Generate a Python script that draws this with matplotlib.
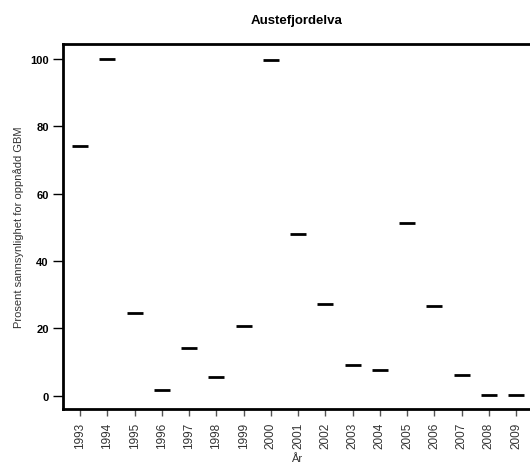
import matplotlib
matplotlib.use("Agg")
import matplotlib.pyplot as plt

plt.rcParams['font.family'] = ['Liberation Sans', 'DejaVu Sans']

years = [1993, 1994, 1995, 1996, 1997, 1998, 1999, 2000, 2001,
         2002, 2003, 2004, 2005, 2006, 2007, 2008, 2009]
values = [74.1, 100.0, 24.6, 1.7, 14.2, 5.6, 20.8, 99.6, 48.1,
          27.3, 9.0, 7.7, 51.3, 26.6, 6.2, 0.3, 0.3]
yticks = [0, 20, 40, 60, 80, 100]
title = "Austefjordelva"
xlabel = "År"
ylabel = "Prosent sannsynlighet for oppnådd GBM"

fig = plt.figure(figsize=(5.30, 4.64), dpi=100)
W, H = 530, 464
left, right, top, bottom = 62.7, 531, 45, 410
ax = fig.add_axes([left / W, 1 - bottom / H, (right - left) / W, (bottom - top) / H])

ax.plot(years, values, linestyle='none', marker='_', markersize=12,
        markeredgewidth=2, color='black')

ax.set_xlim(1992.36, 2009.55)
ax.set_ylim(-4, 104.5)
ax.set_xticks(years)
ax.set_xticklabels([str(y) for y in years], rotation=90, fontsize=8.5, color='#333333')
ax.set_yticks(yticks)
ax.set_yticklabels([str(v) for v in yticks], fontsize=8, fontweight='bold')

for s in ['left', 'bottom', 'top']:
    ax.spines[s].set_linewidth(2)
ax.spines['right'].set_visible(False)

ax.tick_params(axis='y', direction='out', length=7, width=1, pad=3)
ax.tick_params(axis='x', direction='out', length=5, width=1, color='#555555', pad=4)

ax.set_title(title, fontsize=9.5, fontweight='bold', pad=15)
ax.set_xlabel(xlabel, fontsize=8, color='#333333', labelpad=4)
ax.set_ylabel(ylabel, fontsize=8, color='#333333', labelpad=4.5)

fig.savefig("out.png", dpi=100)
